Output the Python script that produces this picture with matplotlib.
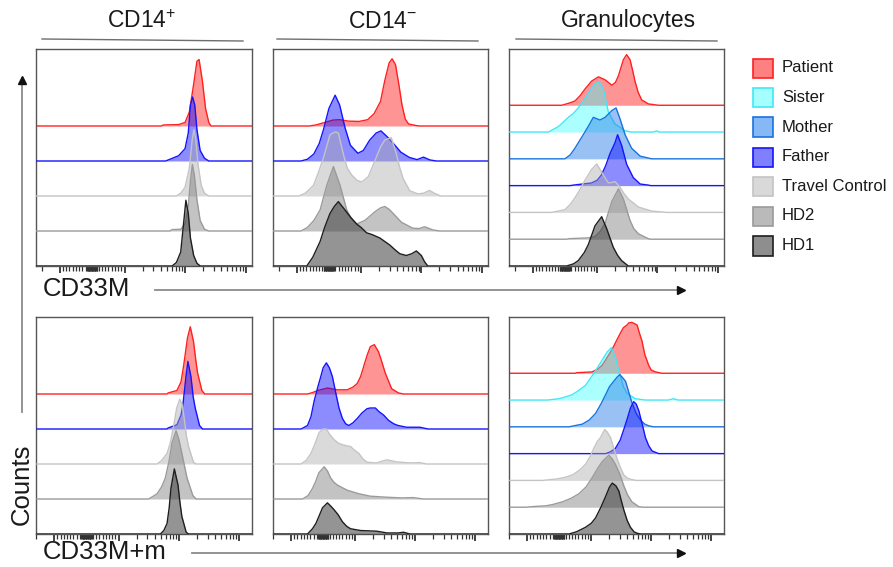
import numpy as np
import matplotlib
matplotlib.use("Agg")
import matplotlib.pyplot as plt
from matplotlib.lines import Line2D
from matplotlib.patches import Rectangle

plt.rcParams['font.family'] = ['Liberation Sans', 'DejaVu Sans']
plt.rcParams['mathtext.fontset'] = 'custom'
plt.rcParams['mathtext.rm'] = 'Liberation Sans'
plt.rcParams['mathtext.it'] = 'Liberation Sans'
plt.rcParams['mathtext.bf'] = 'Liberation Sans:bold'

samples = ['Patient', 'Sister', 'Mother', 'Father', 'Travel Control', 'HD2', 'HD1']
monocyte_samples = ['Patient', 'Father', 'Travel Control', 'HD2', 'HD1']
column_titles = [r'CD14$^{+}$', r'CD14$^{-}$', 'Granulocytes']
row_labels = ['CD33M', 'CD33M+m']

# histogram outlines: (position along the panel axis in %, height in lane units)
cd33m_cd14pos = {
    'Patient': [(58, 0), (59, 0.03), (66, 0.04), (69, 0.1), (71, 0.4), (73, 1.2), (74.5, 1.85), (75.5, 1.9),
                (77, 1.3), (78.5, 0.5), (80, 0.1), (81, 0)],
    'Father': [(60, 0), (62, 0.05), (66, 0.15), (69, 0.35), (70.5, 0.8), (71.5, 1.6), (72.5, 1.83), (73.5, 1.6),
               (74.5, 0.9), (76, 0.3), (78, 0.08), (80, 0)],
    'Travel Control': [(65, 0), (67, 0.08), (69, 0.25), (71, 0.8), (72.3, 1.6), (73.1, 1.9), (74, 1.6), (75, 0.9),
                       (76.5, 0.3), (78, 0.08), (80, 0)],
    'HD2': [(62, 0), (63, 0.04), (67, 0.05), (69, 0.2), (70.5, 0.7), (71.6, 1.5), (72.4, 1.9), (73.3, 1.6),
            (74.5, 0.9), (76, 0.3), (78, 0.05), (80, 0)],
    'HD1': [(63, 0), (65, 0.1), (67, 0.4), (68.3, 1.2), (69.4, 1.88), (70.5, 1.5), (71.5, 0.8), (73, 0.3),
            (74.5, 0.08), (76, 0)],
}

cd33m_cd14neg = {
    'Patient': [(17, 0), (20, 0.03), (24, 0.1), (28, 0.17), (31, 0.18), (35, 0.14), (40, 0.13), (44, 0.18),
                (47, 0.35), (50, 0.7), (52, 1.3), (54, 1.8), (55.4, 1.92), (57, 1.75), (58.5, 1.2), (60, 0.6),
                (61.5, 0.2), (63, 0.06), (66, 0.02), (68, 0)],
    'Father': [(13, 0), (16, 0.05), (19, 0.2), (21.5, 0.5), (23.5, 0.9), (26, 1.5), (28.9, 1.88), (31, 1.6),
               (33.5, 0.95), (36, 0.45), (39.5, 0.22), (42, 0.3), (45, 0.6), (48, 0.8), (50.2, 0.86), (53, 0.7),
               (56, 0.5), (59.5, 0.25), (63.5, 0.1), (67, 0.04), (70, 0.11), (73, 0.03), (76, 0)],
    'Travel Control': [(12, 0), (15, 0.08), (18.8, 0.3), (21, 0.65), (23.5, 1.1), (26.5, 1.75), (28.9, 1.83),
                       (30.4, 1.8), (32.7, 1.2), (34.5, 0.8), (36.6, 0.6), (39, 0.45), (41.2, 0.4), (44.3, 0.55),
                       (46, 0.8), (48, 1.1), (50, 1.4), (52, 1.6), (55, 1.67), (57.4, 1.2), (59, 0.8), (60.5, 0.5),
                       (63.6, 0.15), (67.4, 0.06), (70, 0.08), (72.8, 0.16), (75, 0.08), (78, 0)],
    'HD2': [(13, 0), (16, 0.1), (19, 0.3), (21.9, 0.6), (25, 1.3), (28.1, 1.84), (31.2, 1.3), (34.3, 0.6),
            (36.5, 0.35), (38.9, 0.2), (42.7, 0.3), (45, 0.42), (47.4, 0.55), (50, 0.66), (52, 0.7), (54, 0.62),
            (55.9, 0.5), (59.7, 0.25), (65, 0.08), (68, 0.07), (70.5, 0.12), (74.4, 0.03), (77.5, 0)],
    'HD1': [(15.7, 0), (18.5, 0.25), (21.9, 0.7), (24, 1.1), (26.5, 1.5), (28.5, 1.7), (30.4, 1.84), (33.5, 1.6),
            (36, 1.4), (38.9, 1.2), (41, 1.1), (43.5, 0.95), (46, 0.9), (49.7, 0.8), (52, 0.7), (54.3, 0.6),
            (57, 0.45), (59, 0.35), (62, 0.3), (64.5, 0.35), (66.7, 0.43), (69, 0.3), (70.5, 0.12), (72, 0)],
}

cd33m_gran = {
    'Patient': [(24.5, 0), (28, 0.08), (30.7, 0.16), (33, 0.35), (35.3, 0.6), (38.4, 0.9), (41.6, 1.06),
                (44.7, 0.95), (47.8, 0.75), (49.5, 0.85), (50.9, 1.1), (53.2, 1.7), (54.7, 1.89), (56.3, 1.7),
                (57.5, 1.3), (58.6, 0.9), (60, 0.5), (61.7, 0.2), (64.8, 0.05), (69.5, 0)],
    'Sister': [(18.3, 0), (22.9, 0.2), (25, 0.35), (27.6, 0.55), (30, 0.7), (32.2, 0.9), (34.5, 1.15),
               (36.9, 1.45), (40, 1.8), (41.9, 1.87), (43.9, 1.6), (45, 1.2), (46.2, 0.75), (49.3, 0.3),
               (54, 0.05), (57, 0), (67, 0), (68.7, 0.04), (70, 0)],
    'Mother': [(26, 0), (28.5, 0.15), (30.7, 0.4), (33, 0.7), (35.3, 1.0), (37.5, 1.3), (39.2, 1.55),
               (42.3, 1.45), (44.7, 1.55), (47.8, 1.8), (49.8, 1.9), (51.6, 1.5), (54, 0.9), (57, 0.4),
               (61, 0.1), (66.4, 0)],
    'Father': [(28.4, 0), (30, 0.02), (38.4, 0.1), (41, 0.2), (43, 0.4), (45, 0.75), (47, 1.2), (49.3, 1.6),
               (50.5, 1.9), (52.4, 1.5), (54.7, 0.8), (57.8, 0.3), (61, 0.06), (64.8, 0.02), (66, 0)],
    'Travel Control': [(19.8, 0), (26, 0.1), (28.5, 0.3), (30.7, 0.55), (33, 0.85), (35.3, 1.2), (38.4, 1.6),
                       (40.8, 1.81), (43.1, 1.5), (46.2, 1.1), (48, 1.12), (49.3, 1.15), (51.6, 0.95),
                       (53.5, 0.7), (55.5, 0.5), (60.2, 0.2), (66.4, 0.05), (73.3, 0)],
    'HD2': [(26.8, 0), (28, 0.02), (37, 0.05), (40, 0.1), (42.5, 0.3), (44.7, 0.6), (47.8, 1.4), (50.9, 1.88),
            (53.2, 1.5), (56.3, 0.7), (58, 0.4), (60.2, 0.2), (64.8, 0.02), (66, 0)],
    'HD1': [(26.8, 0), (30, 0.08), (32.2, 0.2), (35, 0.5), (36.9, 0.8), (40, 1.5), (43.1, 1.84), (45.4, 1.4),
            (48.5, 0.7), (50.5, 0.4), (52.4, 0.2), (55.5, 0)],
}

cd33mm_cd14pos = {
    'Patient': [(60.5, 0), (61, 0.03), (65.1, 0.1), (67, 0.35), (68.2, 0.8), (70, 1.6), (71.3, 1.92), (72.8, 1.5),
                (74, 0.9), (74.7, 0.6), (76.7, 0.1), (78, 0)],
    'Father': [(60.5, 0), (61, 0.03), (65.1, 0.12), (67, 0.4), (67.9, 0.7), (69.3, 1.5), (70.2, 1.93),
               (71.6, 1.5), (72.7, 0.9), (73.6, 0.6), (75.6, 0.1), (77, 0)],
    'Travel Control': [(55.9, 0), (58, 0.1), (60.5, 0.3), (62, 0.6), (63.6, 1.1), (65, 1.6), (66.4, 1.85),
                       (67.5, 1.7), (68.5, 1.3), (69.5, 0.8), (70.5, 0.5), (72.8, 0.05), (74, 0)],
    'HD2': [(52, 0), (55.9, 0.15), (58, 0.35), (59.7, 0.6), (61.5, 1.1), (62.8, 1.6), (64.7, 1.95), (66, 1.7),
            (67.4, 1.3), (69.8, 0.6), (72.5, 0.1), (74, 0)],
    'HD1': [(57.4, 0), (59, 0.1), (60.5, 0.3), (61.5, 0.75), (62.3, 1.3), (63.9, 1.86), (65.6, 1.4), (66.5, 0.9),
            (67.4, 0.5), (69.4, 0.05), (70.5, 0)],
}

cd33mm_cd14neg = {
    'Patient': [(15.7, 0), (18, 0.04), (20.4, 0.1), (25, 0.17), (29.6, 0.12), (34.3, 0.12), (37, 0.2),
                (38.9, 0.3), (40.5, 0.5), (42, 0.8), (43.5, 1.1), (45, 1.35), (46.9, 1.41), (48.9, 1.2),
                (50.5, 0.9), (52, 0.6), (55, 0.15), (58.2, 0.03), (60.5, 0)],
    'Father': [(12.7, 0), (15.7, 0.1), (17.3, 0.35), (18.8, 0.8), (20.5, 1.2), (21.9, 1.5), (23, 1.75),
               (24.5, 1.89), (25.9, 1.75), (27.3, 1.5), (29, 1.0), (30.4, 0.6), (32, 0.3), (33.5, 0.15),
               (35, 0.1), (37, 0.18), (38.9, 0.3), (41, 0.45), (43.5, 0.58), (45, 0.6), (47.4, 0.6), (49, 0.5),
               (51.2, 0.4), (53.5, 0.25), (55.9, 0.15), (58, 0.1), (62, 0.05), (68.2, 0.05), (72, 0)],
    'Travel Control': [(12.7, 0), (15, 0.1), (17.3, 0.3), (19, 0.55), (21.1, 0.9), (23, 1.0), (24.5, 1.0),
                       (26, 0.85), (28, 0.7), (30, 0.6), (32, 0.55), (34, 0.52), (35.8, 0.5), (37.5, 0.4),
                       (39.7, 0.3), (41.5, 0.15), (43.5, 0.05), (48, 0.03), (50.5, 0.08), (52.8, 0.12),
                       (55, 0.09), (57.4, 0.06), (63.6, 0.03), (68, 0.04), (71.3, 0)],
    'HD2': [(13.4, 0), (16, 0.1), (18, 0.3), (19.5, 0.5), (21, 0.75), (23.5, 0.92), (25, 0.8), (26.5, 0.6),
            (28, 0.48), (29.6, 0.4), (32, 0.32), (34.3, 0.25), (37, 0.2), (39.7, 0.15), (45, 0.08),
            (52.8, 0.05), (60, 0.03), (65, 0.04), (69.8, 0)],
    'HD1': [(15.7, 0), (18, 0.15), (19.6, 0.3), (21, 0.5), (22.7, 0.75), (25, 0.89), (26.5, 0.8), (28, 0.7),
            (30, 0.55), (32, 0.35), (34, 0.22), (35.8, 0.15), (40.4, 0.1), (48, 0.08), (50, 0.06),
            (52.8, 0.03), (58, 0.03), (60.5, 0.05), (63.6, 0)],
}

cd33mm_gran = {
    'Patient': [(30.7, 0), (31, 0.02), (38.4, 0.05), (41, 0.15), (43.1, 0.3), (45.5, 0.6), (47.8, 0.9),
                (50, 1.25), (51.6, 1.5), (53, 1.7), (54.7, 1.8), (55.5, 1.88), (57, 1.9), (59.4, 1.8),
                (60.5, 1.5), (61.7, 1.2), (63, 0.7), (64.8, 0.3), (66, 0.12), (68, 0.05), (71, 0)],
    'Sister': [(17.5, 0), (23, 0.05), (26, 0.12), (29.1, 0.2), (32, 0.35), (35.3, 0.55), (37.5, 0.8),
               (40, 1.1), (42, 1.35), (43.9, 1.6), (45.5, 1.8), (47.4, 1.95), (49.3, 1.6), (50.5, 1.2),
               (51.6, 0.9), (53, 0.5), (54.7, 0.25), (58.6, 0.05), (63.3, 0), (74, 0), (76.4, 0.05), (78.5, 0)],
    'Mother': [(27.6, 0), (30, 0.04), (33.8, 0.1), (37, 0.25), (40, 0.5), (42.5, 0.85), (44.7, 1.2),
               (46.5, 1.5), (48.5, 1.7), (50, 1.85), (51.3, 1.95), (52.5, 1.85), (54, 1.7), (55.5, 1.3),
               (57, 0.9), (59, 0.5), (61, 0.25), (63, 0.1), (64.8, 0.04), (67, 0)],
    'Father': [(44.7, 0), (47, 0.07), (49.3, 0.2), (51.5, 0.5), (53.2, 0.9), (54.8, 1.3), (56.3, 1.7),
               (57.8, 1.94), (59, 1.85), (60.2, 1.6), (61.8, 1.1), (63.3, 0.6), (64.8, 0.3), (66.4, 0.1),
               (69.5, 0)],
    'Travel Control': [(15.2, 0), (21.4, 0.05), (25, 0.1), (29.1, 0.2), (32.5, 0.38), (35.3, 0.6), (37.5, 0.9),
                       (39.2, 1.2), (40.8, 1.45), (42.3, 1.6), (44.3, 1.9), (45.5, 1.8), (47, 1.6), (48.5, 1.2),
                       (50.1, 0.8), (51.5, 0.5), (53.2, 0.2), (55, 0.08), (57, 0.03), (59, 0)],
    'HD2': [(7.4, 0), (12, 0.03), (16.7, 0.05), (20, 0.1), (24.5, 0.2), (28.5, 0.33), (32.2, 0.5), (35.5, 0.75),
            (38.4, 1.1), (41, 1.45), (43.1, 1.7), (46.2, 1.94), (47.8, 1.8), (49.3, 1.6), (51.5, 1.2),
            (53.2, 0.8), (55, 0.45), (57, 0.2), (60.2, 0.02), (62, 0)],
    'HD1': [(27.6, 0), (31, 0.08), (35.3, 0.25), (38, 0.4), (40, 0.6), (42.5, 1.0), (44.7, 1.4), (46.5, 1.75),
            (47.8, 1.9), (49.5, 1.8), (50.9, 1.6), (52, 1.25), (53.2, 0.9), (54.8, 0.5), (56.3, 0.25),
            (58, 0.08), (59.4, 0.03), (61, 0)],
}

panels = [[cd33m_cd14pos, cd33m_cd14neg, cd33m_gran],
          [cd33mm_cd14pos, cd33mm_cd14neg, cd33mm_gran]]

# styling per sample
edge_colors = {'Patient': '#ff2020', 'Sister': '#40e8f8', 'Mother': '#1a72e0', 'Father': '#1414ff',
               'Travel Control': '#c4c4c4', 'HD2': '#9a9a9a', 'HD1': '#1e1e1e'}
fill_colors = {'Patient': '#ff0000', 'Sister': '#30ffff', 'Mother': '#2a7fe6', 'Father': '#0000ff',
               'Travel Control': '#a8a8a8', 'HD2': '#7a7a7a', 'HD1': '#3c3c3c'}
fill_alpha = {'Patient': 0.42, 'Sister': 0.4, 'Mother': 0.48, 'Father': 0.45,
              'Travel Control': 0.42, 'HD2': 0.45, 'HD1': 0.55}
legend_fill = {'Patient': '#ff8080', 'Sister': '#a6ffff', 'Mother': '#85b8f5', 'Father': '#8080ff',
               'Travel Control': '#d9d9d9', 'HD2': '#bababa', 'HD1': '#8e8e8e'}

W, H = 893, 567


def fx(px):
    return px / W


def fy(py):
    return 1 - py / H


def axis_pos(v, zero):
    # biexponential-like display: linear around zero, log above 10^3
    v = np.asarray(v, float)
    mag = np.abs(v)
    lin = 15 * mag / 1000
    log = 15 + 28 * np.log10(np.maximum(mag, 1000) / 1000)
    return zero + np.sign(v) * np.where(mag <= 1000, lin, log)


major_vals = [-1000, 1000, 10000, 100000]
minor_vals = ([-2000] + list(range(-900, 1000, 100)) + list(range(-160, 161, 20))
              + [k * 1000 for k in range(2, 10)] + [k * 10000 for k in range(2, 10)])


def draw_panel(ax, traces, order, ymax, zero):
    n = len(order)
    for lane, name in enumerate(order):
        base = n - 1 - lane
        pts = np.array(traces[name], float)
        x = np.r_[0, pts[:, 0], 100]
        y = base + np.r_[0, pts[:, 1], 0]
        ax.fill_between(x, base, y, color=fill_colors[name], alpha=fill_alpha[name], lw=0, zorder=2 * lane + 1)
        ax.plot(x, y, color=edge_colors[name], lw=1.0, zorder=2 * lane + 2, solid_joinstyle='round')
    ax.set_xlim(0, 100)
    ax.set_ylim(0, ymax)
    ax.set_yticks([])
    ax.set_xticks(axis_pos(major_vals, zero))
    ax.set_xticks(axis_pos(minor_vals, zero), minor=True)
    ax.set_xticklabels([])
    ax.tick_params(axis='x', which='major', direction='out', length=5, width=1.2, color='#222222')
    ax.tick_params(axis='x', which='minor', direction='out', length=3.5, width=0.9, color='#333333')
    for s in ax.spines.values():
        s.set_color('#555555')
        s.set_linewidth(1.0)


fig = plt.figure(figsize=(W / 100, H / 100), dpi=100)

col_px = [(36, 252), (273, 488), (509, 724)]
row_px = [(49, 266), (317, 534)]
row_zero = [26, 23]

for r, (top, bottom) in enumerate(row_px):
    for c, (left, right) in enumerate(col_px):
        ax = fig.add_axes([fx(left), fy(bottom), (right - left) / W, (bottom - top) / H])
        order = samples if c == 2 else monocyte_samples
        ymax = 8.1 if c == 2 else 6.2
        draw_panel(ax, panels[r][c], order, ymax, row_zero[r])

# column headers with underline
title_x = [142, 383, 628]
line_px = [(42, 243), (277, 478), (516, 717)]
for t, tx, (l0, l1) in zip(column_titles, title_x, line_px):
    fig.text(fx(tx), fy(21), t, ha='center', va='center', fontsize=16.5, color='#1a1a1a')
    fig.add_artist(Line2D([fx(l0), fx(l1)], [fy(39), fy(41)], color='#6e6e6e', lw=1.0))

# x-axis labels with arrows
label_y = [289, 552]
arrow_start = [155, 192]
for lab, ly, x0 in zip(row_labels, label_y, arrow_start):
    fig.text(fx(43), fy(ly), lab, ha='left', va='center', fontsize=18.5, color='#1a1a1a')
    fig.add_artist(Line2D([fx(x0), fx(680)], [fy(ly + 1), fy(ly + 1)], color='#8a8a8a', lw=1.3))
    fig.add_artist(Line2D([fx(681)], [fy(ly + 1)], marker='>', markersize=6, color='#111111', lw=0))

# y-axis label with arrow
fig.text(fx(22), fy(484), 'Counts', rotation=90, ha='center', va='center', fontsize=18.5, color='#1a1a1a')
fig.add_artist(Line2D([fx(22), fx(22)], [fy(412), fy(82)], color='#8a8a8a', lw=1.3))
fig.add_artist(Line2D([fx(22)], [fy(80)], marker='^', markersize=6, color='#111111', lw=0))

# legend
legend_y = [68, 97.5, 127, 157, 186.5, 216, 246]
for name, ly in zip(samples, legend_y):
    fig.add_artist(Rectangle((fx(753), fy(ly + 9.5)), 20 / W, 19 / H, facecolor=legend_fill[name],
                             edgecolor=edge_colors[name], lw=1.2, transform=fig.transFigure))
    fig.text(fx(782), fy(ly), name, ha='left', va='center', fontsize=12, color='#1a1a1a')

fig.savefig('out.png', dpi=100)
